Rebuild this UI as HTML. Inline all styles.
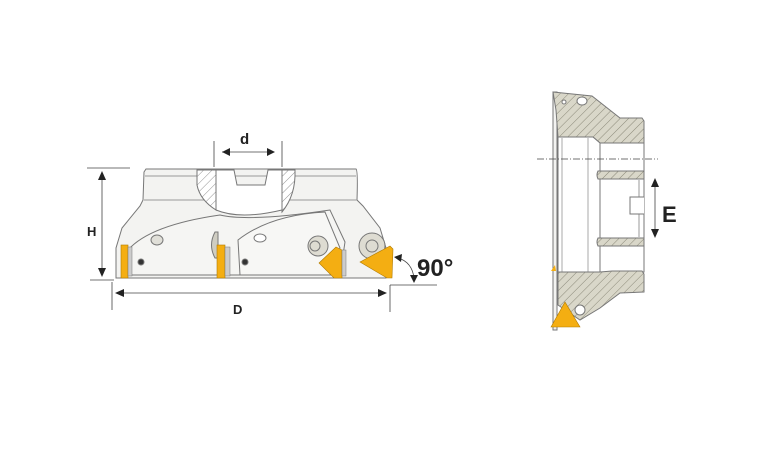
<!DOCTYPE html>
<html><head><meta charset="utf-8"><style>
html,body{margin:0;padding:0;background:#fff;}
svg{display:block;}
text{font-family:"Liberation Sans",sans-serif;font-weight:bold;fill:#222;}
</style></head><body>
<svg width="770" height="458" viewBox="0 0 770 458" xmlns="http://www.w3.org/2000/svg">
<defs>
<pattern id="h" patternUnits="userSpaceOnUse" width="6" height="6" patternTransform="rotate(45)">
<rect width="6" height="6" fill="#d9d7c9"/><line x1="0" y1="0" x2="0" y2="6" stroke="#8a8878" stroke-width="1"/>
</pattern>
<pattern id="h2" patternUnits="userSpaceOnUse" width="6" height="6" patternTransform="rotate(45)">
<rect width="6" height="6" fill="#fff"/><line x1="0" y1="0" x2="0" y2="6" stroke="#777" stroke-width="0.8"/>
</pattern>
</defs>
<g stroke="#777" stroke-width="1" fill="#f3f3f1">
<path d="M146,169 L356,169 Q358,170 357,200 L363,206 L380,228 L386,248 L386,278 L116,278 L116,248 L122,228 L140,206 L143,200 L144,172 Z"/>
<line x1="145" y1="176" x2="356" y2="176" stroke="#999"/>
<line x1="144" y1="200" x2="357" y2="200" stroke="#999"/>
<path d="M216,170 L216,210 Q240,220 282,210 L282,170 L268,170 L265,185 L237,185 L234,170 Z" fill="#fff"/>
<path d="M197,170 L216,170 L216,210 Q200,200 197,185 Z" fill="url(#h2)"/>
<path d="M282,170 L295,170 Q296,195 282,212 Z" fill="url(#h2)"/>
<path d="M128,250 Q150,225 220,215 Q250,222 330,210 L345,242 L340,275 L130,275 Z" fill="#f5f5f3"/>
<path d="M238,240 Q270,215 325,212 L340,248 L330,275 L240,275 Z" fill="#f7f7f5"/>
<ellipse cx="157" cy="240" rx="6" ry="5" fill="#e0dfd8"/>
<ellipse cx="260" cy="238" rx="6" ry="4" fill="#fff"/>
<circle cx="141" cy="262" r="3" fill="#333"/>
<circle cx="245" cy="262" r="3" fill="#333"/>
<circle cx="318" cy="246" r="10" fill="#dedcd2"/>
<circle cx="315" cy="246" r="5" fill="#dedcd2"/>
<circle cx="372" cy="246" r="13" fill="#dedcd2"/>
<circle cx="372" cy="246" r="6" fill="#dedcd2"/>
<path d="M215,232 Q208,245 215,258 L218,258 L218,232 Z" fill="#cfcdc2"/>
</g>
<g fill="#f4ae12" stroke="#b07a00" stroke-width="0.6">
<rect x="121" y="245" width="7" height="33"/>
<rect x="217" y="245" width="8" height="33"/>
<path d="M319,263 L336,247 L342,250 L342,278 L334,278 Z"/>
<path d="M360,262 L390,246 L393,249 L392,278 L387,278 Z"/>
</g>
<rect x="128" y="247" width="4" height="29" fill="#ccc" stroke="#777" stroke-width="0.5"/>
<rect x="225" y="247" width="5" height="29" fill="#ccc" stroke="#777" stroke-width="0.5"/>
<rect x="342" y="250" width="4" height="26" fill="#ccc" stroke="#777" stroke-width="0.5"/>
<g stroke="#444" stroke-width="0.8" fill="none">
<line x1="214" y1="141" x2="214" y2="167"/><line x1="282" y1="141" x2="282" y2="167"/>
<line x1="222" y1="152" x2="274" y2="152"/>
<line x1="87" y1="168" x2="130" y2="168"/><line x1="90" y1="280" x2="114" y2="280"/>
<line x1="102" y1="176" x2="102" y2="272"/>
<line x1="112" y1="282" x2="112" y2="310"/><line x1="390" y1="285" x2="390" y2="312"/>
<line x1="120" y1="293" x2="383" y2="293"/>
<line x1="390" y1="285" x2="437" y2="285"/>
<path d="M398,258 Q412,262 414,278"/>
</g>
<g fill="#222">
<path d="M222,152 L230,148 L230,156 Z"/><path d="M275,152 L267,148 L267,156 Z"/>
<path d="M102,171 L98,180 L106,180 Z"/><path d="M102,277 L98,268 L106,268 Z"/>
<path d="M115,293 L124,289 L124,297 Z"/><path d="M387,293 L378,289 L378,297 Z"/>
<path d="M394,257 L402,254 L401,262 Z"/><path d="M414,283 L410,275 L418,275 Z"/>
</g>
<text x="240" y="144" font-size="15">d</text>
<text x="87" y="236" font-size="13">H</text>
<text x="233" y="314" font-size="13">D</text>
<text x="417" y="276" font-size="24">90°</text>
<g stroke="#777" stroke-width="1">
<path d="M553,92 L553,330 L557,330 L557,92 Z" fill="#f3f3f1"/>
<path d="M553,92 L592,96 L620,118 L642,118 L644,121 L644,143 L600,143 L593,137 L558,137 L556,110 Z" fill="url(#h)"/>
<path d="M558,137 L558,272 L600,272 L600,143 L593,137 Z" fill="#fff"/>
<line x1="588" y1="138" x2="588" y2="272" stroke="#aaa"/>
<line x1="562" y1="138" x2="562" y2="272" stroke="#aaa"/>
<rect x="600" y="143" width="44" height="129" fill="#fff"/>
<line x1="639" y1="180" x2="639" y2="237" stroke="#999"/>
<path d="M598,171 L644,171 L644,179 L598,179 Q596,175 598,171 Z" fill="url(#h)"/>
<path d="M598,238 L644,238 L644,246 L598,246 Q596,242 598,238 Z" fill="url(#h)"/>
<path d="M644,197 L630,197 L630,214 L644,214" fill="#fff"/>
<path d="M558,272 L600,272 L612,271 L642,271 L644,274 L644,292 L620,293 L600,308 L580,320 L558,305 Z" fill="url(#h)"/>
<circle cx="580" cy="310" r="5" fill="#fff"/>
<circle cx="564" cy="102" r="2" fill="#fff"/>
<ellipse cx="582" cy="101" rx="5" ry="4" fill="#fff"/>
</g>
<path d="M551,327 L565,302 L580,327 Z" fill="#f4ae12" stroke="#b07a00" stroke-width="0.6"/>
<path d="M551,271 L555,265 L556,271 Z" fill="#f4ae12"/>
<line x1="537" y1="159" x2="658" y2="159" stroke="#444" stroke-width="0.8" stroke-dasharray="7,2,1,2"/>
<line x1="655" y1="184" x2="655" y2="232" stroke="#444" stroke-width="0.8"/>
<path d="M655,178 L651,187 L659,187 Z" fill="#222"/><path d="M655,238 L651,229 L659,229 Z" fill="#222"/>
<text x="662" y="222" font-size="22">E</text>
</svg>
</body></html>
